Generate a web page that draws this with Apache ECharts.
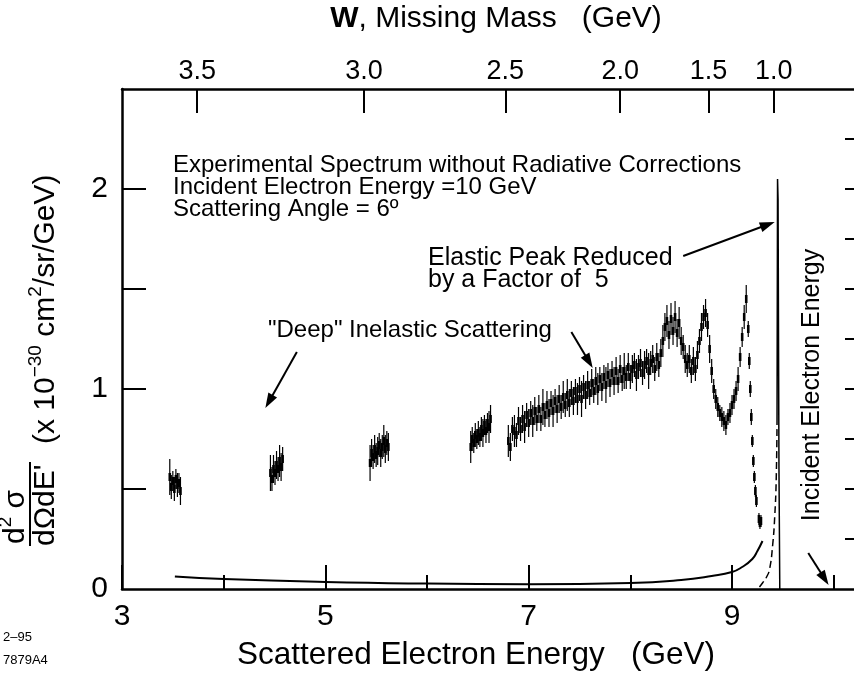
<!DOCTYPE html>
<html>
<head>
<meta charset="utf-8">
<script src="https://cdn.jsdelivr.net/npm/echarts@6/dist/echarts.min.js"></script>
<style>html,body{margin:0;padding:0;background:#fff}#c{width:854px;height:673px}</style>
</head>
<body>
<div id="c"></div>
<script>
// ---------------- DATA ----------------
// x: scattered electron energy E' (GeV); y: d2sigma/dOmega dE' (1e-30 cm^2/sr/GeV)
const xTickLabels = [3, 5, 7, 9];
const xMinorTicks = [4, 6, 8, 10];
const yTickLabels = [0, 1, 2];
const yLeftTicks = [0.5, 1, 1.5, 2];
const yRightTicks = [0.25, 0.5, 0.75, 1, 1.25, 1.5, 1.75, 2, 2.25];
// W (missing mass) top-axis labels and their E' positions
const wTickLabels = ['3.5', '3.0', '2.5', '2.0', '1.5', '1.0'];
const wTickPos = [3.74, 5.38, 6.77, 7.90, 8.77, 9.41];

// measured points: [E', value, error]
const cluster1 = [[3.47,0.56,0.09],[3.485,0.51,0.06],[3.50,0.54,0.05],[3.515,0.50,0.06],[3.53,0.55,0.05],[3.545,0.52,0.06],[3.56,0.53,0.05],[3.575,0.49,0.07]];
const cluster2 = [[4.46,0.58,0.09],[4.475,0.55,0.06],[4.49,0.60,0.07],[4.505,0.58,0.06],[4.52,0.62,0.07],[4.535,0.60,0.06],[4.55,0.64,0.08],[4.565,0.61,0.07],[4.58,0.65,0.06]];
const cluster3 = [[5.44,0.63,0.09],[5.455,0.68,0.07],[5.47,0.66,0.06],[5.485,0.70,0.07],[5.50,0.67,0.06],[5.515,0.69,0.07],[5.53,0.72,0.06],[5.545,0.68,0.07],[5.56,0.71,0.06],[5.575,0.74,0.08],[5.59,0.70,0.07],[5.605,0.73,0.06],[5.62,0.71,0.07]];
const cluster4 = [[6.43,0.71,0.08],[6.445,0.75,0.06],[6.46,0.73,0.05],[6.475,0.77,0.06],[6.49,0.75,0.05],[6.505,0.78,0.06],[6.52,0.76,0.05],[6.535,0.80,0.06],[6.55,0.78,0.07],[6.565,0.82,0.05],[6.58,0.79,0.06],[6.595,0.83,0.05],[6.61,0.81,0.08],[6.625,0.85,0.07]];
const mainScan = [
[6.80,0.74,0.08],[6.82,0.71,0.07],[6.84,0.80,0.06],[6.86,0.79,0.08],[6.88,0.77,0.06],[6.90,0.84,0.07],[6.92,0.80,0.06],[6.94,0.85,0.07],[6.96,0.81,0.08],[6.98,0.87,0.06],
[7.00,0.83,0.07],[7.02,0.88,0.06],[7.04,0.84,0.08],[7.06,0.89,0.07],[7.08,0.85,0.06],[7.10,0.90,0.07],[7.12,0.85,0.06],[7.14,0.91,0.09],[7.16,0.87,0.06],[7.18,0.92,0.07],
[7.20,0.88,0.07],[7.22,0.93,0.06],[7.24,0.89,0.08],[7.26,0.94,0.06],[7.28,0.90,0.07],[7.30,0.95,0.07],[7.32,0.91,0.06],[7.34,0.96,0.08],[7.36,0.92,0.06],[7.38,0.97,0.08],
[7.40,0.93,0.07],[7.42,0.98,0.06],[7.44,0.94,0.07],[7.46,0.99,0.06],[7.48,0.95,0.08],[7.50,1.00,0.06],[7.52,0.95,0.09],[7.54,1.01,0.06],[7.56,0.97,0.07],[7.58,1.02,0.07],
[7.60,0.98,0.06],[7.62,1.03,0.07],[7.64,0.99,0.06],[7.66,1.04,0.07],[7.68,1.00,0.08],[7.70,1.05,0.06],[7.72,1.01,0.07],[7.74,1.06,0.06],[7.76,1.02,0.09],[7.78,1.07,0.06],
[7.80,1.03,0.07],[7.82,1.08,0.06],[7.84,1.04,0.07],[7.86,1.09,0.07],[7.88,1.04,0.06],[7.90,1.10,0.07],[7.92,1.05,0.06],[7.94,1.09,0.09],[7.96,1.06,0.06],[7.98,1.11,0.07],
[8.00,1.06,0.06],[8.02,1.10,0.07],[8.04,1.12,0.06],[8.06,1.07,0.08],[8.08,1.11,0.06],[8.10,1.13,0.07],[8.12,1.08,0.06],[8.14,1.12,0.07],[8.16,1.14,0.06],[8.18,1.09,0.09],
[8.20,1.13,0.06],[8.22,1.15,0.07],[8.24,1.10,0.06],[8.26,1.16,0.07],[8.28,1.12,0.06],[8.30,1.18,0.07],[8.32,1.24,0.08],[8.34,1.31,0.07],[8.36,1.34,0.08],[8.38,1.27,0.07],
[8.40,1.35,0.08],[8.42,1.29,0.07],[8.44,1.36,0.08],[8.46,1.28,0.07],[8.48,1.33,0.08],[8.50,1.24,0.07],[8.52,1.21,0.06],[8.54,1.15,0.07],[8.56,1.12,0.06],[8.58,1.15,0.07],
[8.60,1.09,0.06],[8.62,1.14,0.07],[8.64,1.10,0.06],[8.66,1.17,0.07],[8.68,1.24,0.06],[8.70,1.31,0.07],[8.72,1.36,0.06],[8.74,1.38,0.07],[8.76,1.32,0.06],[8.78,1.20,0.07],
[8.80,1.09,0.06],[8.82,1.00,0.05],[8.84,0.95,0.05],[8.86,0.91,0.05],[8.88,0.88,0.04],[8.90,0.86,0.05],[8.92,0.84,0.05],[8.94,0.82,0.05],[8.96,0.86,0.04],[8.98,0.88,0.05],
[9.00,0.92,0.05],[9.02,0.95,0.05],[9.04,0.99,0.05],[9.06,1.05,0.06],[9.08,1.16,0.05],[9.10,1.26,0.05],[9.12,1.36,0.06],[9.14,1.45,0.07],
[9.16,1.30,0.04],[9.17,1.14,0.04],[9.18,1.00,0.04],[9.19,0.86,0.04],[9.20,0.74,0.03],[9.21,0.64,0.03],[9.22,0.56,0.03],[9.23,0.49,0.03],[9.24,0.44,0.03],
[9.265,0.35,0.03],[9.275,0.33,0.03],[9.285,0.34,0.03]
];
// calculated smooth background (radiative tail) curve
const tailCurve = [[3.52,0.063],[4.0,0.05],[5.0,0.035],[6.0,0.027],[7.0,0.024],[8.0,0.03],[8.5,0.045],[8.8,0.065],[9.0,0.085],[9.1,0.11],[9.2,0.15],[9.25,0.19],[9.30,0.24]];
// elastic peak (reduced by factor 5)
const elasticFlank = [[9.27,0.01],[9.30,0.03],[9.34,0.06],[9.37,0.10],[9.40,0.22],[9.42,0.36],[9.435,0.55],[9.443,0.85]];
const elasticPeak = [[9.443,0.85],[9.448,2.05],[9.453,1.95],[9.462,0.6],[9.47,0.0]];
// annotation arrows in data coordinates [tailX, tailY, headX, headY]
const arrowLines = [
  [4.72, 1.185, 4.41, 0.905],
  [7.42, 1.285, 7.63, 1.105],
  [8.52, 1.665, 9.42, 1.835],
  [9.75, 0.18, 9.95, 0.02]
];

// ---------------- CHART ----------------
const FONT = "'Liberation Sans', Arial, Helvetica, sans-serif";
const chart = echarts.init(document.getElementById('c'), null, {renderer: 'canvas'});
const points = [].concat(cluster1, cluster2, cluster3, cluster4, mainScan);
const gridBox = {left: 122, right: 0, top: 89, bottom: 84};

function txt(text, x, y, size, opts) {
  opts = opts || {};
  return Object.assign({
    type: 'text', x: x, y: y, silent: true,
    style: Object.assign({
      text: text, fontSize: size, fontFamily: FONT, fill: '#000',
      align: opts.align || 'left', textAlign: opts.align || 'left',
      verticalAlign: 'middle', textVerticalAlign: 'middle'
    }, opts.style || {})
  }, opts.el || {});
}

const option = {
  animation: false,
  backgroundColor: '#fff',
  grid: [Object.assign({}, gridBox), Object.assign({}, gridBox)],
  xAxis: [
    { type: 'value', gridIndex: 0, position: 'bottom', min: 3, max: 10.2,
      axisLine: {show: true, lineStyle: {color: '#000', width: 2.5}},
      axisTick: {show: true, inside: true, length: 14, customValues: xMinorTicks, lineStyle: {color: '#000', width: 2}},
      axisLabel: {show: true, customValues: xTickLabels, fontSize: 30, fontFamily: FONT, color: '#000', margin: 13},
      splitLine: {show: false} },
    { type: 'value', gridIndex: 0, position: 'top', min: 3, max: 10.2,
      axisLine: {show: true, lineStyle: {color: '#000', width: 2.5}},
      axisTick: {show: true, inside: true, length: 24, customValues: wTickPos, lineStyle: {color: '#000', width: 2}},
      axisLabel: {show: true, customValues: wTickPos, fontSize: 27, fontFamily: FONT, color: '#000', margin: 4,
        formatter: function (v) { const i = wTickPos.findIndex(p => Math.abs(p - v) < 1e-6); return i >= 0 ? wTickLabels[i] : ''; }},
      splitLine: {show: false} },
    { type: 'value', gridIndex: 1, position: 'bottom', min: 3, max: 10.2,
      axisLine: {show: false},
      axisTick: {show: true, inside: true, length: 24, customValues: xTickLabels, lineStyle: {color: '#000', width: 2}},
      axisLabel: {show: false}, splitLine: {show: false} }
  ],
  yAxis: [
    { type: 'value', gridIndex: 0, position: 'left', min: 0, max: 2.5,
      axisLine: {show: true, lineStyle: {color: '#000', width: 2.5}},
      axisTick: {show: true, inside: true, length: 24, customValues: yLeftTicks, lineStyle: {color: '#000', width: 2}},
      axisLabel: {show: true, customValues: yTickLabels, fontSize: 30, fontFamily: FONT, color: '#000', margin: 14},
      splitLine: {show: false} },
    { type: 'value', gridIndex: 1, position: 'right', min: 0, max: 2.5,
      axisLine: {show: false},
      axisTick: {show: true, inside: true, length: 9, customValues: yRightTicks, lineStyle: {color: '#000', width: 2}},
      axisLabel: {show: false}, splitLine: {show: false} }
  ],
  series: [
    { type: 'custom', xAxisIndex: 0, yAxisIndex: 0, data: points, silent: true,
      renderItem: function (params, api) {
        const x = api.value(0), y = api.value(1), e = api.value(2);
        const t = api.coord([x, y + e]), b = api.coord([x, y - e]), c = api.coord([x, y]);
        return { type: 'group', children: [
          {type: 'line', shape: {x1: t[0], y1: t[1], x2: b[0], y2: b[1]}, style: {stroke: '#000', lineWidth: 1.2}},
          {type: 'line', shape: {x1: c[0], y1: c[1] - 4, x2: c[0], y2: c[1] + 4}, style: {stroke: '#000', lineWidth: 2.6}}
        ]};
      } },
    { type: 'line', xAxisIndex: 0, yAxisIndex: 0, data: tailCurve, smooth: true, symbol: 'none', silent: true,
      lineStyle: {color: '#000', width: 2} },
    { type: 'line', xAxisIndex: 0, yAxisIndex: 0, data: elasticFlank, smooth: true, symbol: 'none', silent: true,
      lineStyle: {color: '#000', width: 1.5, type: [7, 4]} },
    { type: 'line', xAxisIndex: 0, yAxisIndex: 0, data: elasticPeak, symbol: 'none', silent: true,
      lineStyle: {color: '#000', width: 1.5} },
    { type: 'custom', xAxisIndex: 0, yAxisIndex: 0, data: arrowLines, silent: true,
      renderItem: function (params, api) {
        const p0 = api.coord([api.value(0), api.value(1)]);
        const p1 = api.coord([api.value(2), api.value(3)]);
        const dx = p1[0] - p0[0], dy = p1[1] - p0[1];
        const len = Math.sqrt(dx * dx + dy * dy), ux = dx / len, uy = dy / len;
        const hl = 15, hw = 5;
        const bx = p1[0] - ux * hl, by = p1[1] - uy * hl;
        return { type: 'group', children: [
          {type: 'line', shape: {x1: p0[0], y1: p0[1], x2: bx + ux * 2, y2: by + uy * 2}, style: {stroke: '#000', lineWidth: 2}},
          {type: 'polygon', shape: {points: [[p1[0], p1[1]], [bx - uy * hw, by + ux * hw], [bx + uy * hw, by - ux * hw]]}, style: {fill: '#000'}}
        ]};
      } }
  ],
  graphic: [
    txt('{b|W}, Missing Mass   (GeV)', 496, 19, 30, {align: 'center', style: {rich: {b: {fontWeight: 'bold', fontSize: 30, fontFamily: FONT}}}}),
    txt('Scattered Electron Energy   (GeV)', 476, 655, 31.5, {align: 'center'}),
    txt('2–95', 3, 637, 13),
    txt('7879A4', 3, 660, 13),
    txt('Experimental Spectrum without Radiative Corrections', 173, 165, 24),
    txt('Incident Electron Energy =10 GeV', 173, 187, 24),
    txt('Scattering Angle = 6º', 173, 209, 24),
    txt('Elastic Peak Reduced', 428, 258, 25),
    txt('by a Factor of  5', 428, 280, 25),
    txt('"Deep" Inelastic Scattering', 268, 330, 24),
    txt('Incident Electron Energy', 812, 385, 25, {align: 'center', el: {rotation: Math.PI / 2}}),
    { type: 'group', x: 0, y: 590, rotation: Math.PI / 2, silent: true, children: [
        txt('d{s|2} σ', 46, 16, 30, {style: {rich: {s: {fontSize: 19, fontFamily: FONT, verticalAlign: 'top', lineHeight: 18}}, lineHeight: 40}}),
        { type: 'line', shape: {x1: 44, y1: 30, x2: 128, y2: 30}, style: {stroke: '#000', lineWidth: 2} },
        txt("dΩdE'", 44, 46, 30),
        txt('(x 10{s|−30} cm{s|2}/sr/GeV)', 146, 46, 30, {style: {rich: {s: {fontSize: 19, fontFamily: FONT, verticalAlign: 'top', lineHeight: 18}}, lineHeight: 40}})
    ]}
  ]
};
chart.setOption(option);
</script>
</body>
</html>
